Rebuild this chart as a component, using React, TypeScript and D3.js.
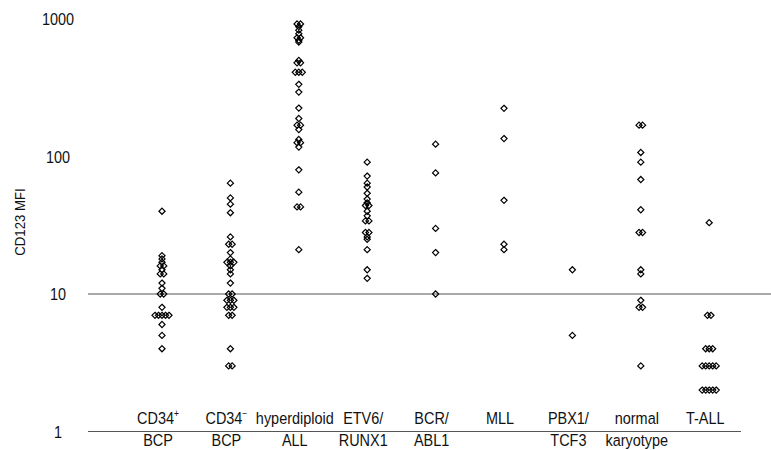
import React, { useEffect, useRef } from 'react'
import * as d3 from 'd3'

// categories (two label lines each, plus superscript for the CD34 groups)
const categories = ['cd34pos', 'cd34neg', 'hyper', 'etv6', 'bcr', 'mll', 'pbx1', 'normal', 'tall']
const labelTop = ['CD34', 'CD34', 'hyperdiploid', 'ETV6/', 'BCR/', 'MLL', 'PBX1/', 'normal', 'T-ALL']
const labelSup = ['+', '\u2212', '', '', '', '', '', '', '']
const labelBottom = ['BCP', 'BCP', 'ALL', 'RUNX1', 'ABL1', '', 'TCF3', 'karyotype', '']

// CD123 MFI per group
const cd34pos = [40, 19, 18, 17, 16, 16, 15, 14, 14, 12, 11, 10, 10, 8, 7, 7, 7, 7, 7, 6, 5, 4]
const cd34neg = [64, 50, 45, 39, 26, 23, 23, 20, 18, 17, 17, 17, 16, 15, 14, 12, 10, 10, 9, 9, 9, 8, 8, 8, 7, 7, 4, 3, 3]
const hyper = [920, 920, 880, 830, 780, 730, 730, 700, 680, 500, 480, 480, 410, 410, 410, 335, 294, 225, 189, 169, 169, 157, 133, 126, 126, 117, 80, 55, 43, 43, 21]
const etv6 = [91, 72, 64, 60, 54, 49, 46, 44, 44, 40, 37, 34, 34, 28, 28, 26, 25, 21, 15, 13]
const bcr = [123, 76, 30, 20, 10]
const mll = [224, 135, 48, 23, 21]
const pbx1 = [15, 5]
const normal = [169, 169, 107, 91, 68, 41, 28, 28, 15, 14, 9, 8, 8, 3]
const tall = [33, 7, 7, 4, 4, 4, 3, 3, 3, 3, 3, 2, 2, 2, 2, 2]
const series = [cd34pos, cd34neg, hyper, etv6, bcr, mll, pbx1, normal, tall]

const yTicks = [1, 10, 100, 1000]

export default function App() {
  const ref = useRef<SVGSVGElement>(null)

  useEffect(() => {
    const svg = d3.select(ref.current)
    svg.selectAll('*').remove()

    const y = d3.scaleLog().domain([1, 1000]).range([431.5, 19])
    const x = d3.scaleBand().domain(categories).range([127.8, 743.4])
    // labels sit a little left of the point columns
    const xl = d3.scaleBand().domain(categories).range([123.8, 739.4])
    const font = 'Liberation Sans, Arial, sans-serif'
    const squeeze = 0.85 // condensed look of the original type

    // horizontal lines at 1 and 10
    svg.append('line')
      .attr('x1', 88).attr('x2', 741)
      .attr('y1', y(1)).attr('y2', y(1))
      .attr('stroke', '#555').attr('stroke-width', 1)
    svg.append('line')
      .attr('x1', 88).attr('x2', 771)
      .attr('y1', y(10)).attr('y2', y(10))
      .attr('stroke', '#555').attr('stroke-width', 1)

    // tick labels
    svg.selectAll('text.tick')
      .data(yTicks)
      .enter()
      .append('text')
      .attr('class', 'tick')
      .attr('transform', d => 'translate(58,' + (y(d) + 2) + ') scale(' + squeeze + ',1)')
      .attr('text-anchor', 'middle')
      .attr('dominant-baseline', 'middle')
      .attr('font-family', font)
      .attr('font-size', 17)
      .attr('fill', '#111')
      .text(d => d)

    svg.append('text')
      .attr('transform', 'translate(25,222) rotate(-90) scale(' + squeeze + ',1)')
      .attr('text-anchor', 'middle')
      .attr('font-family', font)
      .attr('font-size', 15.5)
      .attr('fill', '#111')
      .text('CD123 MFI')

    // category labels
    categories.forEach((c, i) => {
      const cx = xl(c)! + xl.bandwidth() / 2
      const t = svg.append('text')
        .attr('transform', 'translate(' + cx + ',424) scale(' + squeeze + ',1)')
        .attr('text-anchor', 'middle')
        .attr('font-family', font)
        .attr('font-size', 17)
        .attr('fill', '#111')
      t.append('tspan').text(labelTop[i])
      if (labelSup[i]) {
        t.append('tspan')
          .attr('font-size', 10)
          .attr('dy', -7)
          .text(labelSup[i])
      }
      svg.append('text')
        .attr('transform', 'translate(' + cx + ',446) scale(' + squeeze + ',1)')
        .attr('text-anchor', 'middle')
        .attr('font-family', font)
        .attr('font-size', 17)
        .attr('fill', '#111')
        .text(labelBottom[i])
    })

    // points: equal values spread sideways
    const sym = d3.symbol().type(d3.symbolDiamond2).size(24)
    const gap = 3.5
    series.forEach((vals, i) => {
      const cx = x(categories[i])! + x.bandwidth() / 2
      const counts = d3.rollup(vals, v => v.length, v => v)
      const seen = new Map<number, number>()
      const pts = vals.map(v => {
        const k = seen.get(v) || 0
        seen.set(v, k + 1)
        const n = counts.get(v)!
        return { v, dx: (k - (n - 1) / 2) * gap }
      })
      svg.append('g')
        .selectAll('path')
        .data(pts)
        .enter()
        .append('path')
        .attr('d', sym)
        .attr('transform', d => 'translate(' + (cx + d.dx) + ',' + y(d.v) + ')')
        .attr('fill', 'none')
        .attr('stroke', '#000')
        .attr('stroke-width', 1.2)
    })
  }, [])

  return (
    <svg ref={ref} width={771} height={450}
      style={{ position: 'absolute', left: 0, top: 0, background: '#fff' }} />
  )
}
